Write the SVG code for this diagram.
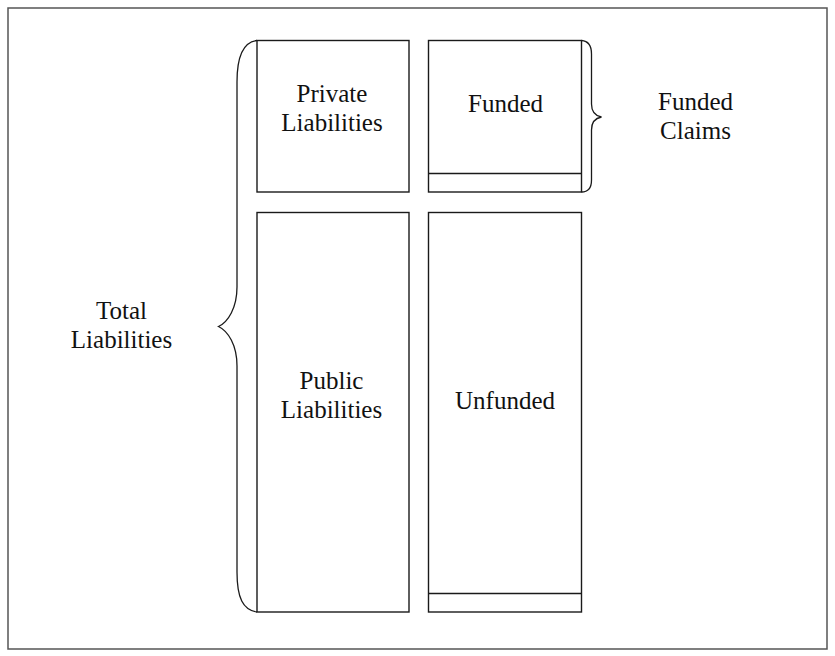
<svg xmlns="http://www.w3.org/2000/svg" width="835" height="656" viewBox="0 0 835 656">
<style>
.box{fill:none;stroke:#1a1a1a;stroke-width:1.4}
.brace{fill:none;stroke:#1a1a1a;stroke-width:1.3}
.t{font-family:'Liberation Serif','Times New Roman','DejaVu Serif',serif;font-size:25px;fill:#111;text-anchor:middle}
</style>
<rect x="0" y="0" width="835" height="656" fill="#fff"/>
<rect x="8" y="8" width="819" height="641" fill="none" stroke="#555" stroke-width="1.5"/>
<g id="private">
<rect class="box" x="257" y="40.5" width="152" height="151.5"/>
<text class="t" font-family="Liberation Serif, serif" x="332" y="101.5">Private</text>
<text class="t" font-family="Liberation Serif, serif" x="332" y="131">Liabilities</text>
</g>
<g id="funded">
<rect class="box" x="428.5" y="40.5" width="153" height="151.5"/>
<line class="box" x1="428.5" y1="173.5" x2="581.5" y2="173.5"/>
<text class="t" font-family="Liberation Serif, serif" x="505.5" y="111.5">Funded</text>
</g>
<g id="public">
<rect class="box" x="257" y="212.5" width="152" height="399.5"/>
<text class="t" font-family="Liberation Serif, serif" x="331.5" y="388.5">Public</text>
<text class="t" font-family="Liberation Serif, serif" x="331.5" y="418">Liabilities</text>
</g>
<g id="unfunded">
<rect class="box" x="428.5" y="212.5" width="153" height="399.5"/>
<line class="box" x1="428.5" y1="593.5" x2="581.5" y2="593.5"/>
<text class="t" font-family="Liberation Serif, serif" x="505" y="408.5">Unfunded</text>
</g>
<g id="total">
<text class="t" font-family="Liberation Serif, serif" x="121.5" y="318.5">Total</text>
<text class="t" font-family="Liberation Serif, serif" x="121.5" y="348">Liabilities</text>
</g>
<g id="funded-claims">
<text class="t" font-family="Liberation Serif, serif" x="695.5" y="110">Funded</text>
<text class="t" font-family="Liberation Serif, serif" x="695.5" y="138.5">Claims</text>
</g>
<g id="connectors">
<path class="brace" d="M257,40.5 C243,42 237,58 237,82 L237,287 C237,308 228,322 218.5,326.5 C228,331 237,345 237,366 L237,572 C237,598 243,610 257,612"/>
<path class="brace" d="M581.5,40.5 C588,41 591.5,46 591.5,54 L591.5,104 C591.5,112 596,116 601.5,117 C596,118 591.5,122 591.5,130 L591.5,180 C591.5,188 588,192 581.5,192"/>
</g>
</svg>
